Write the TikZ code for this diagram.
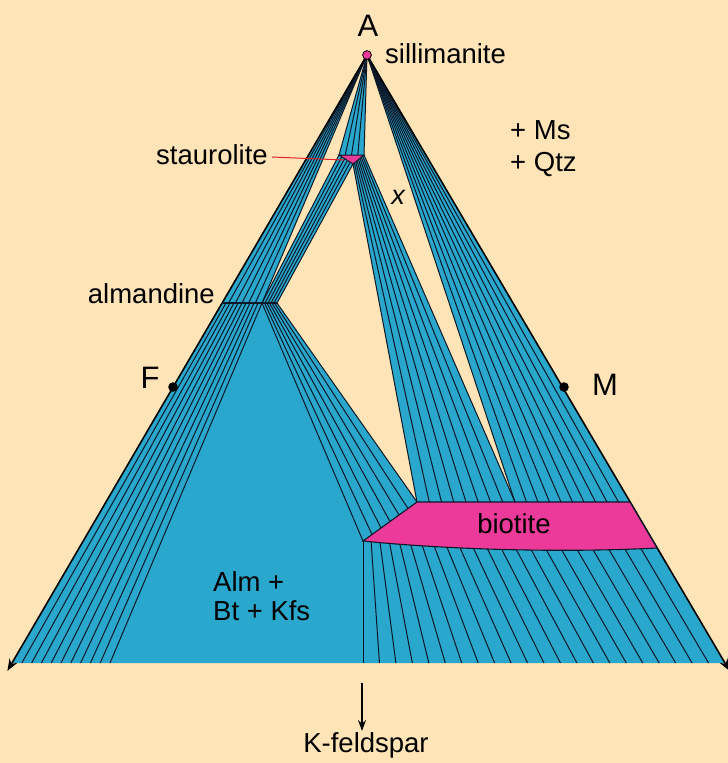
\documentclass[tikz,border=0pt]{standalone}
\usepackage{fontspec}
\setmainfont{Liberation Sans}
\usetikzlibrary{calc,arrows.meta}
\definecolor{bg}{RGB}{254,228,182}
\definecolor{band}{RGB}{42,167,204}
\definecolor{mag}{RGB}{236,58,154}
\definecolor{tieline}{RGB}{12,24,40}
\definecolor{leader}{RGB}{232,32,40}
\begin{document}
\begin{tikzpicture}[x=1pt,y=-1pt,
  tie/.style={draw=tieline,line width=1pt},
  edge/.style={draw=black,line width=1.5pt},
  lbl/.style={font=\fontsize{27.5}{30}\selectfont,inner sep=0pt},
  big/.style={font=\fontsize{31}{34}\selectfont,inner sep=0pt},
  bandfill/.style={fill=band}]
\fill[bg] (0,0) rectangle (728,763);
\useasboundingbox (0,0) rectangle (728,763);
% key points
\coordinate (A) at (367,55);
\coordinate (BL) at (12,663);
\coordinate (BR) at (725,663);
\coordinate (S1) at (339,155);
\coordinate (S2) at (364,155);
\coordinate (S3) at (353,164);
\coordinate (L0) at (222,303);
\coordinate (L1) at (262,303);
\coordinate (L2) at (277,303);
\coordinate (B0) at (363,541);
\coordinate (B1) at (417,502);
\coordinate (B2) at (515,502);
\coordinate (B3) at (630,502);
\coordinate (B4) at (657,548);
\coordinate (K0) at (363,663);
\coordinate (K1) at (110,663);
% band fills
\fill[bandfill] (A) -- (L0) -- (L1) -- cycle;
\fill[bandfill] (A) -- (S1) -- (S2) -- cycle;
\fill[bandfill] (S1) -- (S3) -- (L2) -- (L1) -- cycle;
\fill[bandfill] (S3) -- (S2) -- (B2) -- (B1) -- cycle;
\fill[bandfill] (A) -- (B2) -- (B3) -- cycle;
\fill[bandfill] (L1) -- (L2) -- (B1) -- (B0) -- cycle;
\fill[bandfill] (L0) -- (L1) -- (K1) -- (BL) -- cycle;
\fill[bandfill] (L1) -- (B0) -- (K0) -- (K1) -- cycle;
\fill[bandfill] (B0) .. controls (420,547) and (540,554) .. (B4) -- (BR) -- (K0) -- cycle;
% tie lines
\foreach \i in {0,...,6} {\draw[tie] (A) -- ($(L0)!\i/6!(L1)$);}
\foreach \i in {0,...,4} {\draw[tie] (A) -- ($(S1)!\i/4!(S2)$);}
\foreach \i in {0,...,5} {\draw[tie] ($(S1)!\i/5!(S3)$) -- ($(L1)!\i/5!(L2)$);}
\foreach \i in {0,...,8} {\draw[tie] ($(S3)!\i/8!(S2)$) -- ($(B1)!\i/8!(B2)$);}
\foreach \i in {0,...,10} {\draw[tie] (A) -- ($(B2)!\i/10!(B3)$);}
\foreach \i in {0,...,6} {\draw[tie] ($(L1)!\i/6!(L2)$) -- ($(B0)!\i/6!(B1)$);}
\foreach \i in {0,...,10} {\draw[tie] ($(L0)!\i/10!(L1)$) -- ($(BL)!\i/10!(K1)$);}
\foreach \i in {0,...,22} {
  \pgfmathsetmacro\t{\i/22}
  \path (B0) .. controls (420,547) and (540,554) .. (B4) coordinate[pos=\t] (bt);
  \draw[tie] (bt) -- ($(K0)!\t!(BR)$);
}
% outer edges with arrow tips
\draw[edge,-{Stealth[length=12pt,width=9pt]}] (A) -- ($(A)!1.013!(BL)$);
\draw[edge,-{Stealth[length=12pt,width=9pt]}] (A) -- ($(A)!1.013!(BR)$);
% biotite
\filldraw[fill=mag,draw=tieline,line width=1.1pt] (B0) -- (B1) -- (B3) -- (B4) .. controls (540,554) and (420,547) .. (B0) -- cycle;
% staurolite
\filldraw[fill=mag,draw=tieline,line width=1pt] (S1) -- (S2) -- (S3) -- cycle;
% almandine bar
\draw[draw=tieline,line width=1.5pt] (L0) -- (L2);
% points
\filldraw[fill=mag,draw=black,line width=0.8pt] (A) circle (4.4);
\coordinate (F) at (173,387);
\coordinate (M) at (564,387);
\fill[black] (F) circle (4.8);
\fill[black] (M) circle (4.8);
% leader to staurolite
\coordinate (ldA) at (272,157);
\coordinate (ldB) at (344,160);
\draw[leader,line width=1pt] (ldA) -- (ldB);
% K-feldspar arrow
\coordinate (kt) at (362,683);
\coordinate (kb) at (362,731);
\draw[line width=1.4pt,-{Stealth[length=11pt,width=8pt]}] (kt) -- (kb);
% labels
\node[big,anchor=base] (lA) at (368,36) {A};
\node[lbl,anchor=base west] (lsil) at (385,63) {sillimanite};
\node[lbl,anchor=base west] (lms) at (510,139) {+ Ms};
\node[lbl,anchor=base west] (lqtz) at (510,171) {+ Qtz};
\node[lbl,anchor=base east] (lst) at (268,164) {staurolite};
\node[lbl,anchor=base,font=\fontsize{27}{30}\selectfont\itshape] (lx) at (398,204) {x};
\node[lbl,anchor=base east] (lalm) at (215,303) {almandine};
\node[big,anchor=base] (lF) at (150,388) {F};
\node[big,anchor=base] (lM) at (605,395) {M};
\node[lbl,anchor=base] (lbt) at (514,533) {biotite};
\node[lbl,anchor=base west] (lalm2) at (213,591) {Alm +};
\node[lbl,anchor=base west] (lbtk) at (213,620) {Bt + Kfs};
\node[lbl,anchor=base] (lkfs) at (366,752) {K-feldspar};
\end{tikzpicture}
\end{document}
